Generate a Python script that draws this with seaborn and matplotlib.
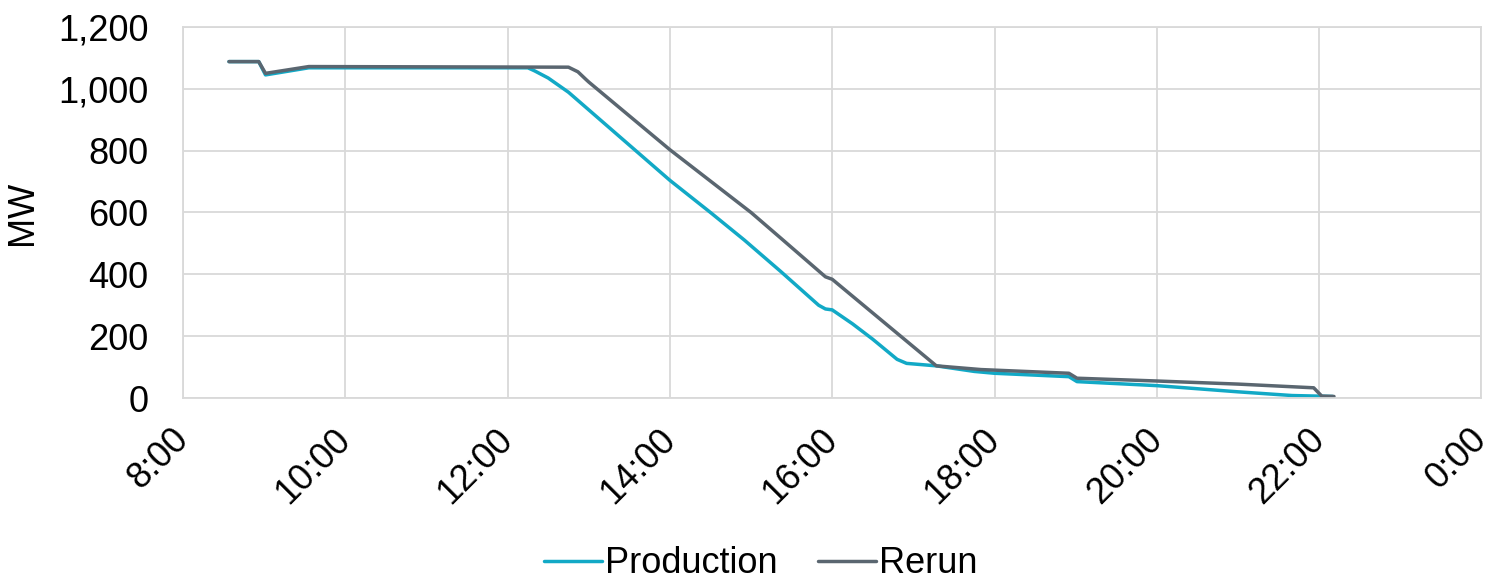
import pandas as pd
import matplotlib.pyplot as plt
import seaborn as sns
from matplotlib.ticker import FuncFormatter, MultipleLocator

sns.set_theme(style="white")
plt.rcParams['font.family'] = ['Liberation Sans', 'DejaVu Sans']
plt.rcParams['text.color'] = 'black'
plt.rcParams['axes.labelcolor'] = 'black'

# Data (time of day, MW)
prod_times = ['8:34', '8:56', '9:01', '9:33', '12:15', '12:20', '12:30', '12:45',
              '13:00', '13:30', '14:00', '14:30', '14:55', '15:22', '15:50', '15:55',
              '16:00', '16:15', '16:30', '16:48', '16:55', '17:17', '17:45', '18:00',
              '18:55', '19:01', '20:00', '21:00', '21:40', '22:10']
prod_mw = [1088, 1088, 1045, 1068, 1068, 1058, 1035, 989,
           932, 818, 704, 600, 511, 409, 300, 288,
           285, 240, 190, 125, 112, 104, 86, 80,
           69, 53, 40, 20, 8, 5]

rerun_times = ['8:34', '8:56', '9:01', '9:33', '12:45', '12:52', '12:58', '13:00',
               '14:00', '15:00', '15:22', '15:55', '16:00', '17:17', '17:50', '18:55',
               '19:01', '20:00', '21:00', '21:56', '22:02', '22:11']
rerun_mw = [1088, 1088, 1050, 1072, 1070, 1055, 1030, 1022,
            803, 600, 517, 392, 384, 104, 92, 80,
            64, 55, 45, 33, 6, 5]


def to_hours(t):
    h, m = t.split(':')
    return int(h) + int(m) / 60


df = pd.concat([
    pd.DataFrame({'hour': [to_hours(t) for t in prod_times], 'MW': prod_mw, 'series': 'Production'}),
    pd.DataFrame({'hour': [to_hours(t) for t in rerun_times], 'MW': rerun_mw, 'series': 'Rerun'}),
])

palette = {'Production': '#12A9C6', 'Rerun': '#5A6670'}

fig = plt.figure(figsize=(14.89, 5.79), dpi=100)
ax = fig.add_axes([0.1229, 0.3126, 0.872, 0.6408])

sns.lineplot(data=df, x='hour', y='MW', hue='series', palette=palette,
             linewidth=2.5, ax=ax, sort=False, estimator=None)

ax.set_xlim(8, 24)
ax.set_ylim(0, 1200)
ax.xaxis.set_major_locator(MultipleLocator(2))
ax.yaxis.set_major_locator(MultipleLocator(200))
ax.xaxis.set_major_formatter(FuncFormatter(lambda v, p: f"{int(v) % 24}:00"))
ax.yaxis.set_major_formatter(FuncFormatter(lambda v, p: f"{int(v):,}"))
ax.grid(True, color='#D9D9D9', linewidth=1.3)
ax.set_axisbelow(True)
for s in ax.spines.values():
    s.set_color('#D9D9D9')
    s.set_linewidth(1.3)

ax.tick_params(axis='y', labelsize=26, length=0, pad=25, colors='black')
ax.tick_params(axis='x', labelsize=26, length=0, pad=26, colors='black')
for lbl in ax.get_xticklabels():
    lbl.set_rotation(45)
    lbl.set_ha('right')
    lbl.set_va('center')
    lbl.set_rotation_mode('anchor')

ax.set_xlabel('')
ax.set_ylabel('MW', fontsize=26, color='black')
ax.yaxis.set_label_coords(-0.110, 0.5)

handles, labels = ax.get_legend_handles_labels()
leg = ax.legend(handles, labels, loc='center', bbox_to_anchor=(0.511, 0.026),
                bbox_transform=fig.transFigure, ncol=2, frameon=False, fontsize=26,
                handlelength=1.6, handletextpad=0.1, columnspacing=1.1)
for t in leg.get_texts():
    t.set_color('black')

fig.savefig('out.png', dpi=100)
